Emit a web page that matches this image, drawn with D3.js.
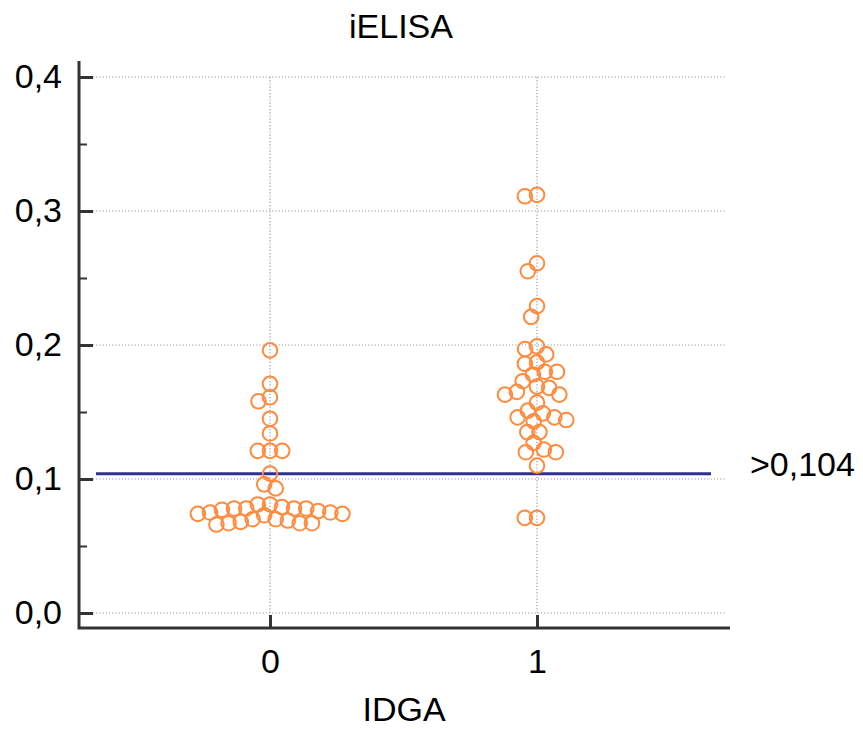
<!DOCTYPE html>
<html>
<head>
<meta charset="utf-8">
<script src="https://cdn.jsdelivr.net/npm/d3@7/dist/d3.min.js"></script>
<style>
  html, body { margin: 0; padding: 0; background: #ffffff; }
  svg { display: block; }
  text { font-family: "Liberation Sans", Arial, sans-serif; fill: #000; }
</style>
</head>
<body>
<script>
// ---- data ----
const groups = ["0", "1"];
const group0Values = [
  0.196, 0.171, 0.161, 0.158, 0.145, 0.134, 0.121, 0.121, 0.121,
  0.104, 0.096, 0.093, 0.081, 0.081,
  0.079, 0.078, 0.078, 0.078, 0.078, 0.077,
  0.076, 0.075, 0.075, 0.074, 0.074, 0.073,
  0.070, 0.070, 0.069, 0.068, 0.067, 0.067, 0.067, 0.066
];
const group1Values = [
  0.312, 0.311, 0.261, 0.255, 0.229, 0.221, 0.199, 0.197, 0.193,
  0.187, 0.186, 0.180, 0.180, 0.178, 0.173, 0.169, 0.168, 0.165,
  0.163, 0.163, 0.157, 0.151, 0.149, 0.146, 0.146, 0.144, 0.143,
  0.135, 0.135, 0.127, 0.122, 0.120, 0.120, 0.110, 0.071, 0.071
];
const yTicks = [0, 0.1, 0.2, 0.3, 0.4];
const yMinorTicks = [0.05, 0.15, 0.25, 0.35];
const yTickLabels = ["0,0", "0,1", "0,2", "0,3", "0,4"];
const threshold = 0.104;
const thresholdLabel = ">0,104";
const title = "iELISA";
const xTitle = "IDGA";

// ---- layout ----
const W = 863, H = 729;
const axisX = 79, axisY = 628;
const svg = d3.select("body").append("svg").attr("width", W).attr("height", H);

const y = d3.scaleLinear().domain([0, 0.4]).range([613, 77]);
const x = d3.scaleLinear().domain([0, 1]).range([270, 537]);
const xRight = x.invert(730);

const gridColor = "#9a9a9a";
const axisColor = "#333333";
const dotColor = "#ff8a3d";
const FS = 34;

// horizontal gridlines
svg.append("g").selectAll("line").data(yTicks).join("line")
  .attr("x1", axisX + 14).attr("x2", 725)
  .attr("y1", d => y(d)).attr("y2", d => y(d))
  .attr("stroke", gridColor).attr("stroke-width", 1.2)
  .attr("stroke-dasharray", "1.2,2");
// vertical gridlines
svg.append("g").selectAll("line").data([0, 1]).join("line")
  .attr("x1", d => x(d)).attr("x2", d => x(d))
  .attr("y1", y(0.4)).attr("y2", y(0))
  .attr("stroke", gridColor).attr("stroke-width", 1.2)
  .attr("stroke-dasharray", "1.2,2");

// threshold line
svg.append("line")
  .attr("x1", 96).attr("x2", 711)
  .attr("y1", y(threshold)).attr("y2", y(threshold))
  .attr("stroke", "#2f318f").attr("stroke-width", 3);
svg.append("text")
  .attr("x", 750).attr("y", y(threshold) + 2)
  .attr("font-size", FS)
  .text(thresholdLabel);

// y axis
const yAxis = d3.axisLeft(y).tickValues(yTicks)
  .tickFormat((d, i) => yTickLabels[i])
  .tickSize(-14).tickPadding(17).tickSizeOuter(0);
const gy = svg.append("g").attr("transform", `translate(${axisX},0)`).call(yAxis);
gy.select(".domain").remove();
gy.selectAll(".tick line").attr("stroke", axisColor).attr("stroke-width", 3);
gy.selectAll(".tick text").attr("font-size", FS).attr("font-family", "Liberation Sans, Arial, sans-serif").attr("fill", "#000");
const yMinor = d3.axisLeft(y).tickValues(yMinorTicks).tickFormat("").tickSize(-8).tickSizeOuter(0);
const gym = svg.append("g").attr("transform", `translate(${axisX},0)`).call(yMinor);
gym.select(".domain").remove();
gym.selectAll(".tick line").attr("stroke", axisColor).attr("stroke-width", 2);

// x axis
const xAxis = d3.axisBottom(x).tickValues([0, 1])
  .tickFormat((d, i) => groups[i])
  .tickSize(-13).tickPadding(21).tickSizeOuter(0);
const gx = svg.append("g").attr("transform", `translate(0,${axisY})`).call(xAxis);
gx.select(".domain").remove();
gx.selectAll(".tick line").attr("stroke", axisColor).attr("stroke-width", 3);
gx.selectAll(".tick text").attr("font-size", FS).attr("font-family", "Liberation Sans, Arial, sans-serif").attr("fill", "#000");

// axis lines
svg.append("path")
  .attr("d", `M${axisX},61 V${axisY} H${x(xRight)}`)
  .attr("fill", "none").attr("stroke", axisColor).attr("stroke-width", 3);

// titles
svg.append("text").attr("x", 401).attr("y", 38).attr("text-anchor", "middle")
  .attr("font-size", FS).text(title);
svg.append("text").attr("x", 404).attr("y", 721).attr("text-anchor", "middle")
  .attr("font-size", FS).text(xTitle);

// ---- beeswarm ----
function swarm(values, cx, dia) {
  const order = values.map((v, i) => i).sort((a, b) => values[b] - values[a]);
  const placed = [];
  const out = new Array(values.length);
  order.forEach(i => {
    const py = y(values[i]);
    const near = placed.filter(p => Math.abs(p.y - py) < dia);
    const cands = [cx];
    near.forEach(p => {
      const dx = Math.sqrt(dia * dia - (p.y - py) ** 2);
      cands.push(p.x + dx + 0.01, p.x - dx - 0.01);
    });
    cands.sort((a, b) => Math.abs(a - cx) - Math.abs(b - cx) || a - b);
    let px = cx;
    for (const c of cands) {
      if (near.every(p => (p.x - c) ** 2 + (p.y - py) ** 2 >= dia * dia - 0.5)) { px = c; break; }
    }
    const pt = { x: px, y: py, v: values[i] };
    placed.push(pt);
    out[i] = pt;
  });
  return out;
}

const dia = 12.2;
const pts = swarm(group0Values, x(0), dia).concat(swarm(group1Values, x(1), dia));
svg.append("g").selectAll("circle").data(pts).join("circle")
  .attr("cx", d => d.x).attr("cy", d => d.y).attr("r", 7.3)
  .attr("fill", "none").attr("stroke", dotColor).attr("stroke-width", 2);
</script>
</body>
</html>
